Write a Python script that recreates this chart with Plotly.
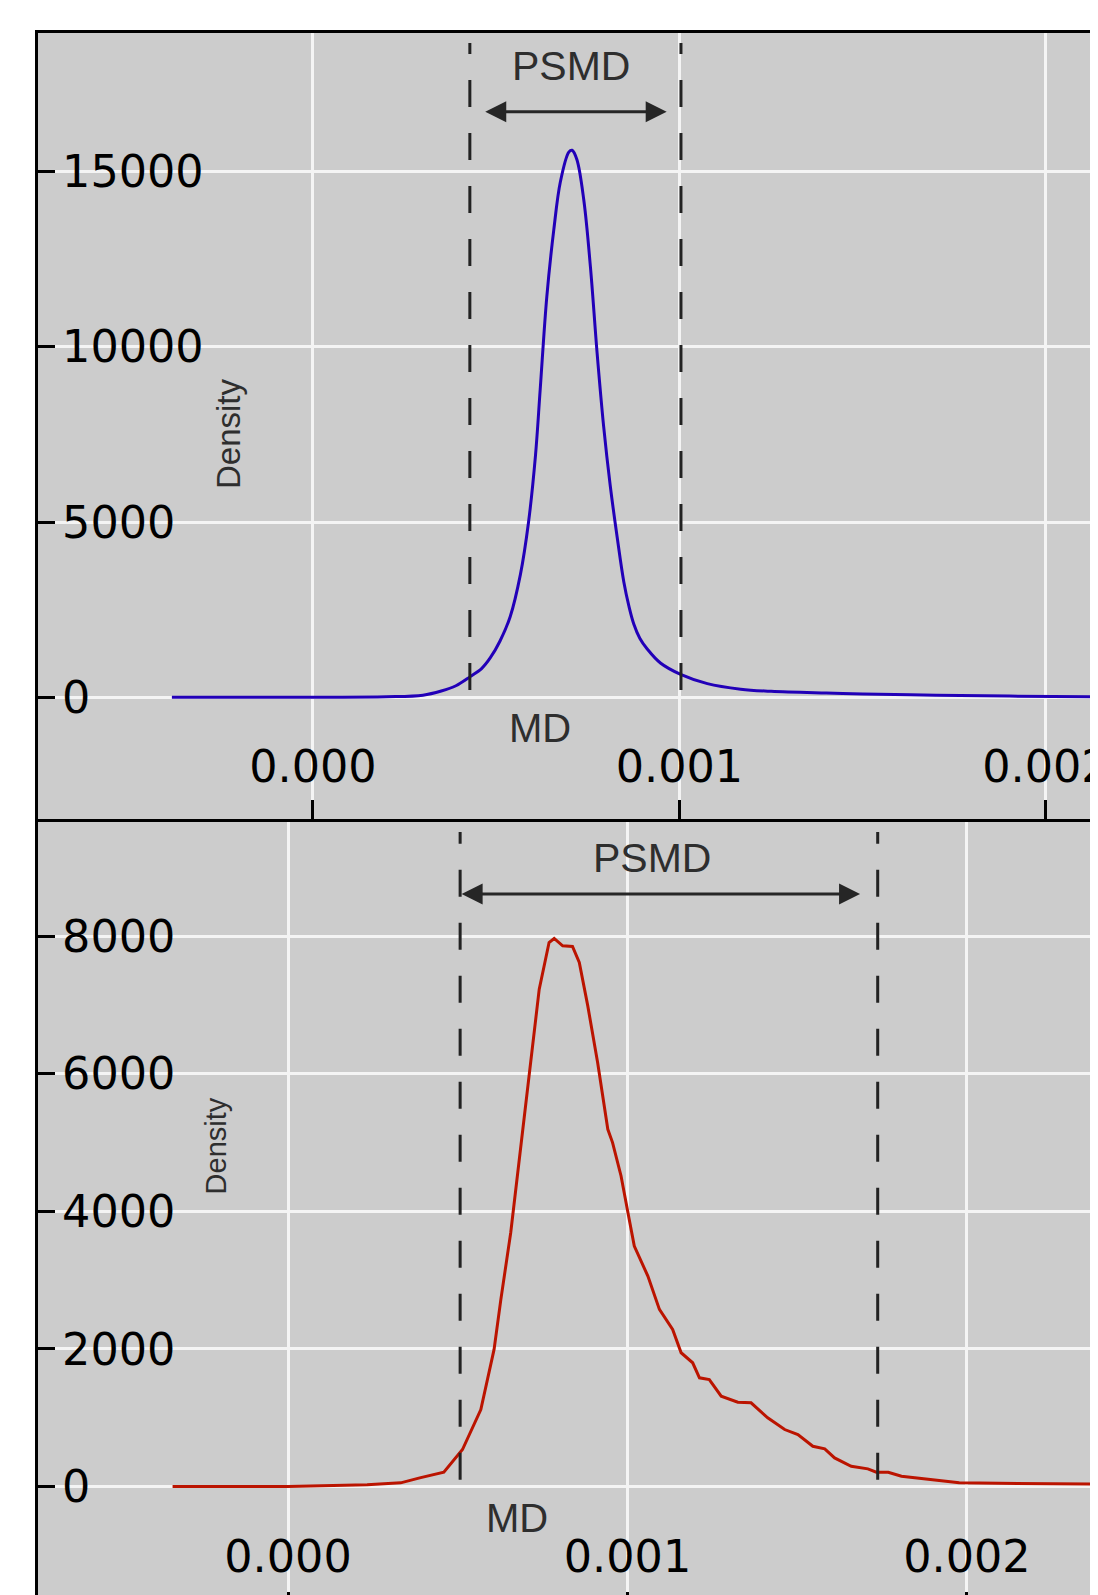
import plotly.graph_objects as go

# ---------------- data ----------------
# Top panel (blue density curve)
top_x = [-0.000385, -0.00020, 0.00000, 0.00020, 0.00030, 0.00035, 0.00039, 0.000429,
         0.000460, 0.000484, 0.000510, 0.000538, 0.000566, 0.000588, 0.000607, 0.000620,
         0.000638, 0.000657, 0.000675, 0.000698, 0.000707, 0.000720, 0.000739, 0.000757,
         0.000775, 0.000793, 0.000811, 0.000830, 0.000848, 0.000862, 0.000875, 0.000892,
         0.000912, 0.000948, 0.001003, 0.001076, 0.001167, 0.00125, 0.00140, 0.00150,
         0.00170, 0.00190, 0.00215]
top_y = [0, 0, 2, 15, 60, 180, 330, 590,
         820, 1130, 1600, 2300, 3509, 4989, 6892, 8794,
         11437, 13339, 14713, 15559, 15612, 15347, 14185, 12282,
         9851, 7737, 6046, 4566, 3298, 2600, 2100, 1680,
         1380, 980, 655, 391, 232, 170, 120, 95,
         60, 35, 10]

# Bottom panel (red density curve)
bot_x = [-0.00034, 0.00000, 0.000233, 0.000332, 0.000388, 0.000459, 0.000514, 0.000568,
         0.000607, 0.000627, 0.000656, 0.000686, 0.000715, 0.000740, 0.000769, 0.000784,
         0.000809, 0.000838, 0.000858, 0.000883, 0.000912, 0.000942, 0.000956, 0.000981,
         0.001005, 0.001020, 0.001060, 0.001094, 0.001133, 0.001158, 0.001192, 0.001212,
         0.001241, 0.001276, 0.001325, 0.001364, 0.001413, 0.001463, 0.001502, 0.001546,
         0.001581, 0.001610, 0.001659, 0.001708, 0.001733, 0.001768, 0.001807, 0.001977,
         0.00239]
bot_y = [0, 0, 25, 54, 126, 208, 538, 1120,
         1993, 2720, 3690, 4950, 6163, 7229, 7908, 7966,
         7859, 7850, 7617, 6986, 6163, 5193, 4999, 4514,
         3884, 3495, 3059, 2575, 2284, 1945, 1799, 1581,
         1556, 1313, 1226, 1217, 999, 829, 756, 586,
         548, 417, 295, 257, 208, 208, 150, 54,
         35]

# Annotation positions (MD / PSMD markers)
top_md_psmd = [0.000428, 0.001004]
bot_md_psmd = [0.000507, 0.001737]
top_vline_y = [208, 18673]
bot_vline_y = [98, 9512]
top_arrow = [0.000466, 0.000965, 16712]
bot_arrow = [0.000507, 0.001685, 8611]

top_xticks = [0.0, 0.001, 0.002]
top_xlabels = ["0.000", "0.001", "0.002"]
top_yticks = [0, 5000, 10000, 15000]
bot_xticks = [0.0, 0.001, 0.002]
bot_xlabels = ["0.000", "0.001", "0.002"]
bot_yticks = [0, 2000, 4000, 6000, 8000]

# ---------------- figure ----------------
# the page body adds an 8px offset, so the figure is 8px smaller than the window
OFF = 8
W, H = 1098 - OFF, 1595 - OFF
T, L = 33 - OFF, 38 - OFF
plot_h = H - T
top_dom = [(H - (819 - OFF)) / plot_h, 1.0]
bot_dom = [0.0, (H - (822 - OFF)) / plot_h]

fig = go.Figure()
fig.add_trace(go.Scatter(x=top_x, y=top_y, mode="lines",
                         line=dict(color="#2200b8", width=3, shape="spline", smoothing=1.0),
                         xaxis="x", yaxis="y", showlegend=False, hoverinfo="skip"))
fig.add_trace(go.Scatter(x=bot_x, y=bot_y, mode="lines",
                         line=dict(color="#bb1400", width=3), xaxis="x2", yaxis="y2",
                         showlegend=False, hoverinfo="skip"))

tickfont = dict(family="DejaVu Sans", size=44.5, color="black")
common_x = dict(showgrid=True, gridcolor="#f4f4f4", gridwidth=2.5, zeroline=False,
                ticks="inside", tickcolor="black", tickwidth=3, automargin=False,
                ticklabelposition="inside", ticklabeloverflow="allow",
                tickfont=tickfont, tickmode="array")
common_y = dict(showgrid=True, gridcolor="#f4f4f4", gridwidth=2.5, zeroline=False,
                ticks="inside", ticklen=17, tickcolor="black", tickwidth=3, automargin=False,
                ticklabelposition="inside", ticklabeloverflow="allow",
                tickfont=tickfont, tickmode="array",
                showline=True, linecolor="black", linewidth=3, mirror=False)

fig.update_layout(
    width=W, height=H,
    margin=dict(l=L, r=0, t=T, b=0, pad=0, autoexpand=False),
    paper_bgcolor="white", plot_bgcolor="#cccccc",
    showlegend=False,
    xaxis=dict(common_x, domain=[0, 1], anchor="y", range=[-0.0007503, 0.0021419],
               tickvals=top_xticks, ticktext=top_xlabels, ticklen=19,
               showline=True, linecolor="black", linewidth=3, mirror=True,
               ticklabelstandoff=15),
    yaxis=dict(common_y, domain=top_dom, anchor="x", range=[-3473, 18958],
               tickvals=top_yticks, ticktext=[str(v) for v in top_yticks],
               ticklabelstandoff=13),
    xaxis2=dict(common_x, domain=[0, 1], anchor="y2", range=[-0.0007364, 0.0023859],
                tickvals=bot_xticks, ticktext=bot_xlabels, ticklen=3,
                showline=False, ticklabelstandoff=17),
    yaxis2=dict(common_y, domain=bot_dom, anchor="x2", range=[-1576, 9659],
                tickvals=bot_yticks, ticktext=[str(v) for v in bot_yticks],
                ticklabelstandoff=13),
)

dash_line = dict(color="#222222", width=3, dash="27px,26px")
for xv in top_md_psmd:
    fig.add_shape(type="line", xref="x", yref="y", x0=xv, x1=xv,
                  y0=top_vline_y[0], y1=top_vline_y[1], line=dash_line)
for xv in bot_md_psmd:
    fig.add_shape(type="line", xref="x2", yref="y2", x0=xv, x1=xv,
                  y0=bot_vline_y[0], y1=bot_vline_y[1], line=dash_line)

# double-headed arrows
fig.add_annotation(xref="x", yref="y", axref="x", ayref="y",
                   x=top_arrow[1], y=top_arrow[2], ax=top_arrow[0], ay=top_arrow[2],
                   text="", showarrow=True, arrowhead=2, startarrowhead=2,
                   arrowside="end+start", arrowsize=1.4, startarrowsize=1.4,
                   arrowwidth=3, arrowcolor="#262626")
fig.add_annotation(xref="x2", yref="y2", axref="x2", ayref="y2",
                   x=bot_arrow[1], y=bot_arrow[2], ax=bot_arrow[0], ay=bot_arrow[2],
                   text="", showarrow=True, arrowhead=2, startarrowhead=2,
                   arrowside="end+start", arrowsize=1.4, startarrowsize=1.4,
                   arrowwidth=3, arrowcolor="#262626")

lab_font = dict(family="Liberation Sans", color="#2e2e2e")
fig.add_annotation(xref="x", yref="y", x=0.0007053, y=18017, text="PSMD",
                   showarrow=False, font=dict(lab_font, size=41))
fig.add_annotation(xref="x2", yref="y2", x=0.0010713, y=9136, text="PSMD",
                   showarrow=False, font=dict(lab_font, size=41))
fig.add_annotation(xref="x", yref="y", x=0.0006194, y=-890, text="MD",
                   showarrow=False, font=dict(lab_font, size=40))
fig.add_annotation(xref="x2", yref="y2", x=0.0006745, y=-456, text="MD",
                   showarrow=False, font=dict(lab_font, size=40))
fig.add_annotation(xref="x", yref="y", x=-0.0002319, y=7514, text="Density",
                   textangle=-90, showarrow=False, font=dict(lab_font, size=33))
fig.add_annotation(xref="x2", yref="y2", x=-0.0002121, y=4944, text="Density",
                   textangle=-90, showarrow=False, font=dict(lab_font, size=29))

fig.write_html("out.html")
